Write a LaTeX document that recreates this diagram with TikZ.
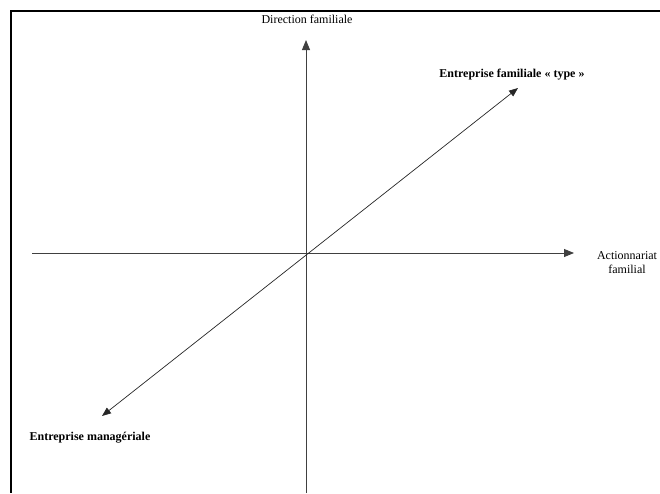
\documentclass[tikz,border=0pt]{standalone}
\usepackage{fontspec}
\setmainfont{Liberation Serif}
\usetikzlibrary{arrows.meta}
\tikzset{
  frameline/.style={line width=1.3pt, black},
  axis/.style={line width=0.9pt, black!75, -{Triangle[length=10pt,width=8pt]}},
  diag/.style={line width=0.7pt, black!85, {Triangle[length=9pt,width=7pt]}-{Triangle[length=9pt,width=7pt]}},
  lab/.style={font=\fontsize{12}{14}\selectfont, inner sep=0pt, align=center},
  blab/.style={lab, font=\fontsize{12}{14}\selectfont\bfseries}
}
\begin{document}
\begin{tikzpicture}[x=1pt,y=-1pt]
\useasboundingbox (0,0) rectangle (660,493);
% frame
\coordinate (ftr) at (660,11);
\coordinate (ftl) at (11,11);
\coordinate (fbl) at (11,493);
\draw[frameline] (ftr) -- (ftl) -- (fbl);
% axes
\coordinate (O) at (306,253);
\coordinate (xl) at (32,253);
\coordinate (xr) at (574,253);
\coordinate (yb) at (306,493);
\coordinate (yt) at (306,40);
\coordinate (dl) at (102,416);
\coordinate (dr) at (518,88);
\draw[axis] (xl) -- (xr);
\draw[axis] (yb) -- (yt);
\draw[diag] (dl) -- (dr);
% labels
\node[lab] (dirfam) at (307,19) {Direction familiale};
\node[lab] (action) at (627,263) {Actionnariat\\familial};
\node[blab] (eft) at (512,75) {Entreprise familiale « type »};
\node[blab] (em) at (90,438) {Entreprise managériale};
\end{tikzpicture}
\end{document}
